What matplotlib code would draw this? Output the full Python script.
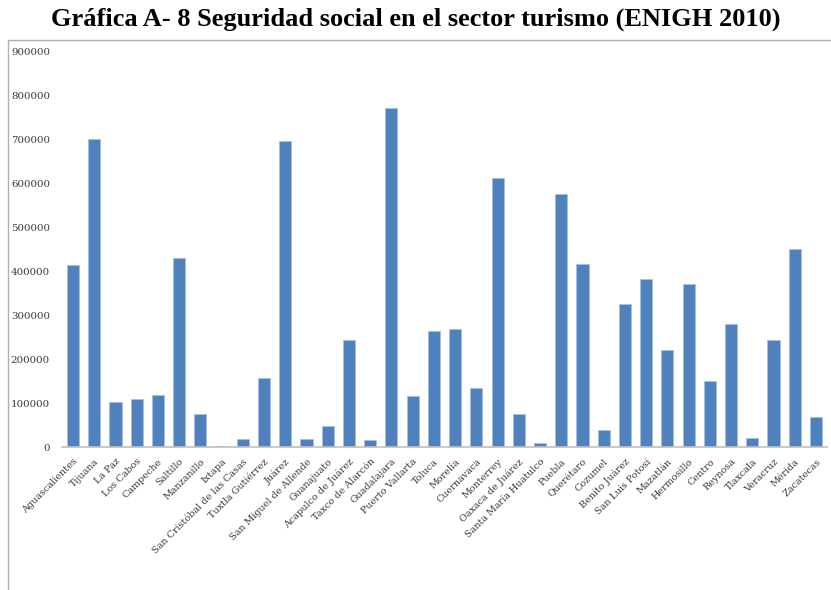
import matplotlib
matplotlib.use('Agg')
import matplotlib.pyplot as plt
import numpy as np
from matplotlib.patches import Rectangle

ciudades = ['Aguascalientes', 'Tijuana', 'La Paz', 'Los Cabos', 'Campeche', 'Saltillo',
            'Manzanillo', 'Ixtapa', 'San Cristóbal de las Casas', 'Tuxtla Gutiérrez', 'Juárez',
            'San Miguel de Allende', 'Guanajuato', 'Acapulco de Juárez', 'Taxco de Alarcón',
            'Guadalajara', 'Puerto Vallarta', 'Toluca', 'Morelia', 'Cuernavaca', 'Monterrey',
            'Oaxaca de Juárez', 'Santa María Huatulco', 'Puebla', 'Querétaro', 'Cozumel',
            'Benito Juárez', 'San Luis Potosí', 'Mazatlán', 'Hermosillo', 'Centro', 'Reynosa',
            'Tlaxcala', 'Veracruz', 'Mérida', 'Zacatecas']
asegurados = [416000, 701000, 103000, 110000, 119000, 432000,
              76000, 3000, 18000, 158000, 697000,
              18000, 48500, 244500, 17000,
              772000, 116000, 264000, 269500, 136000, 612000,
              76000, 10000, 576000, 418000, 40000,
              327000, 382000, 222000, 372000, 152000, 280000,
              22000, 244500, 451000, 69000]
yticks = np.arange(0, 900001, 100000)

fig = plt.figure(figsize=(8.31, 5.90), dpi=100)
ax = fig.add_axes([0.0751, 0.2419, 0.9196, 0.6700])

x = np.arange(len(ciudades))
ax.bar(x, asegurados, width=0.57, color='#4F81BD', edgecolor='#a7bfdf', linewidth=0.5)

ax.set_xlim(-0.5, len(ciudades) - 0.5)
ax.set_ylim(0, 900000)
ax.set_yticks(yticks)
ax.set_yticklabels([str(v) for v in yticks], family='DejaVu Serif', fontsize=7.4, color='#3a3a3a')
ax.set_xticks(x)
ax.set_xticklabels(ciudades, rotation=45, ha='right', va='top', rotation_mode='anchor',
                   family='DejaVu Serif', fontsize=6.9, color='#3a3a3a')
ax.tick_params(axis='both', length=0)
ax.tick_params(axis='y', pad=9)
ax.tick_params(axis='x', pad=7)

for lado in ['top', 'right', 'left']:
    ax.spines[lado].set_visible(False)
ax.spines['bottom'].set_color('#c0c0c0')
ax.spines['bottom'].set_linewidth(1.2)

# marco del área del gráfico
fig.patches.append(Rectangle((8 / 831, -0.05), 1.0, (590 - 39.5) / 590 + 0.05,
                             transform=fig.transFigure, fill=False,
                             edgecolor='#b0b0b0', linewidth=1.0))

fig.text(0.5, 1 - 19 / 590, 'Gráfica A- 8 Seguridad social en el sector turismo (ENIGH 2010)',
         ha='center', va='center', family='Liberation Serif', fontweight='bold', fontsize=19)

plt.savefig('out.png', dpi=100)
